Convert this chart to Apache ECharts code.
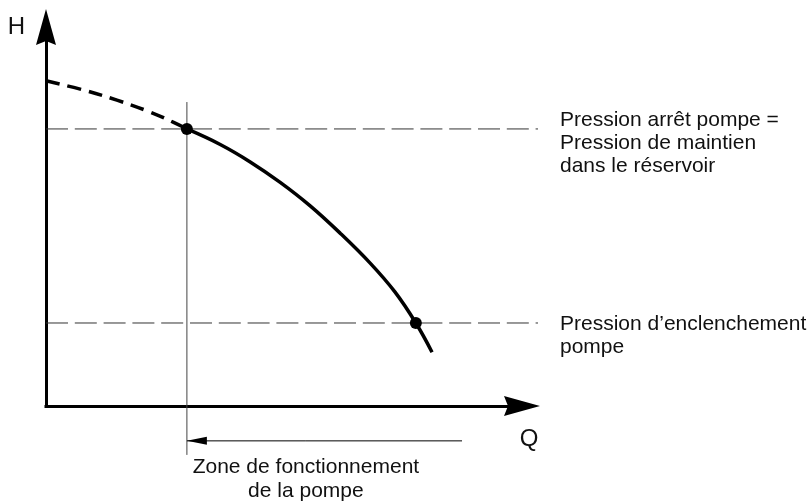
<!DOCTYPE html>
<html>
<head>
<meta charset="utf-8">
<title>Courbe de pompe</title>
<script src="https://cdn.jsdelivr.net/npm/echarts/dist/echarts.min.js"></script>
<style>
    html, body { margin: 0; padding: 0; background: #ffffff; }
    #canva { width: 812px; height: 502px; }
</style>
</head>
<body>
<div id="canva"></div>
<script>
// ========== Data (Q and H in % of the drawn axis range) ==========
const qRange = [0, 100];
const hRange = [0, 100];

// pump curve outside the working zone (dashed part)
const curveDashed = [[0, 85.8], [7.8, 83.4], [14.9, 80.7], [21.8, 77.6], [26.7, 74.9], [29.6, 73.1]];
// pump curve inside the working zone (solid part)
const curveSolid = [[29.6, 73.1], [36.6, 69.0], [42.9, 64.4], [49.2, 59.0], [55.5, 52.8],
    [61.8, 45.6], [68.1, 37.7], [73.3, 30.1], [77.7, 21.9], [81.1, 14.2]];

const stopPoint = [29.6, 73.1];   // pression arrêt pompe
const startPoint = [77.7, 21.9];  // pression d'enclenchement
const guideEndQ = 103.4;          // the two pressure guides run past the Q arrow

const zoneLineH = [80.2, -12.9];          // vertical limit of the working zone
const zoneArrowH = -9.2;
const zoneArrowQ = [87.4, 54.6, 29.6];    // arrow start, label anchor, arrow tip

const labelStop = 'Pression arrêt pompe =\nPression de maintien\ndans le réservoir';
const labelStart = 'Pression d’enclenchement\npompe';
const labelZone = 'Zone de fonctionnement\nde la pompe';

// ========== Chart ==========
var chartDom = document.getElementById('canva');
var myChart = echarts.init(chartDom);

const FONT = 'Liberation Sans';
const textStyle = {
    color: '#111111',
    fontFamily: FONT,
    fontSize: 21,
    lineHeight: 23
};

// arrow head used on both axes (pointing up before rotation)
const axisArrow = 'path://M10,0 L20,36 L10,32 L0,36 Z';

// guides live on a hidden, slightly wider grid (same scale) so they are not cut at the Q arrow
function guideSeries(point, label, shiftY) {
    return {
        type: 'line',
        xAxisIndex: 1,
        yAxisIndex: 1,
        clip: false,
        silent: true,
        symbol: 'circle',
        symbolSize: 0,
        lineStyle: { color: '#333333', width: 1, type: [22, 6.8] },
        data: [
            [qRange[0], point[1]],
            {
                value: [guideEndQ, point[1]],
                label: Object.assign({
                    show: true,
                    position: 'right',
                    distance: 22,
                    offset: [0, shiftY],
                    align: 'left',
                    formatter: label
                }, textStyle)
            }
        ]
    };
}

var option = {
    animation: false,
    textStyle: { fontFamily: FONT },
    grid: [
        { left: 46, right: 290, top: 27, bottom: 96 },
        { left: 46, right: 274, top: 27, bottom: 96 }
    ],
    xAxis: [
        {
            type: 'value',
            min: qRange[0],
            max: qRange[1],
            name: 'Q',
            nameLocation: 'end',
            nameGap: 7,
            nameTextStyle: {
                color: '#111111',
                fontFamily: FONT,
                fontSize: 24,
                align: 'center',
                verticalAlign: 'top',
                padding: [21, 0, 0, 0]
            },
            axisLine: {
                lineStyle: { color: '#000000', width: 3, cap: 'square' },
                symbol: ['none', axisArrow],
                symbolSize: [22, 36]
            },
            axisTick: { show: false },
            axisLabel: { show: false },
            splitLine: { show: false }
        },
        { gridIndex: 1, type: 'value', min: qRange[0], max: guideEndQ, show: false }
    ],
    yAxis: [
        {
            type: 'value',
            min: hRange[0],
            max: hRange[1],
            name: 'H',
            nameLocation: 'end',
            nameGap: 0,
            nameTextStyle: {
                color: '#111111',
                fontFamily: FONT,
                fontSize: 24,
                align: 'right',
                verticalAlign: 'middle',
                padding: [0, 21, 0, 0]
            },
            axisLine: {
                lineStyle: { color: '#000000', width: 3, cap: 'square' },
                symbol: ['none', axisArrow],
                symbolSize: [21, 36]
            },
            axisTick: { show: false },
            axisLabel: { show: false },
            splitLine: { show: false }
        },
        { gridIndex: 1, type: 'value', min: hRange[0], max: hRange[1], show: false }
    ],
    series: [
        // pressure guides with their labels on the right
        guideSeries(stopPoint, labelStop, 14),
        guideSeries(startPoint, labelStart, 12.5),
        // vertical limit of the working zone
        {
            type: 'line',
            clip: false,
            silent: true,
            symbol: 'none',
            lineStyle: { color: '#444444', width: 1 },
            data: [[stopPoint[0], zoneLineH[0]], [stopPoint[0], zoneLineH[1]]]
        },
        // arrow showing the working zone
        {
            type: 'line',
            clip: false,
            silent: true,
            symbol: 'none',
            itemStyle: { color: '#000000', borderWidth: 0 },
            lineStyle: { color: '#000000', width: 1 },
            data: [
                [zoneArrowQ[0], zoneArrowH],
                {
                    value: [zoneArrowQ[1], zoneArrowH],
                    symbol: 'circle',
                    symbolSize: 0,
                    label: Object.assign({
                        show: true,
                        position: 'bottom',
                        distance: 14.5,
                        align: 'center',
                        formatter: labelZone
                    }, textStyle, { lineHeight: 24 })
                },
                {
                    value: [zoneArrowQ[2], zoneArrowH],
                    symbol: 'triangle',
                    symbolSize: [8, 20],
                    symbolRotate: 90,
                    symbolOffset: [10, 0]
                }
            ]
        },
        // pump curve
        {
            type: 'line',
            clip: false,
            silent: true,
            smooth: 0.4,
            showSymbol: false,
            lineStyle: { color: '#000000', width: 3.5, type: [14, 8] },
            data: curveDashed
        },
        {
            type: 'line',
            clip: false,
            silent: true,
            smooth: 0.4,
            showSymbol: false,
            lineStyle: { color: '#000000', width: 3.5 },
            data: curveSolid
        },
        // switching points
        {
            type: 'scatter',
            silent: true,
            symbolSize: 12,
            itemStyle: { color: '#000000', opacity: 1 },
            z: 5,
            data: [stopPoint, startPoint]
        }
    ]
};
option && myChart.setOption(option);
</script>
</body>
</html>
